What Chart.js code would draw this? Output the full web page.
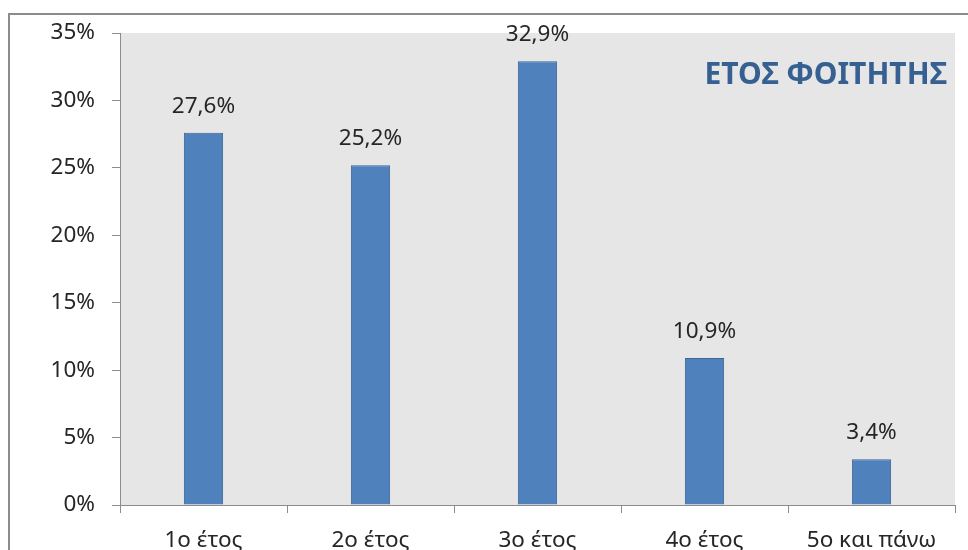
<!DOCTYPE html>
<html>
<head>
<meta charset="utf-8">
<script src="https://cdn.jsdelivr.net/npm/chart.js@4"></script>
<style>
    html, body { margin: 0; padding: 0; background: #ffffff; }
    #wrap { width: 968px; height: 550px; }
</style>
</head>
<body>
<div id="wrap"><canvas id="graphique"></canvas></div>
<script>
// données
const categories = ['1ο έτος', '2ο έτος', '3ο έτος', '4ο έτος', '5ο και πάνω'];
const pourcentages = [27.6, 25.2, 32.9, 10.9, 3.4];
const titre = 'ΕΤΟΣ ΦΟΙΤΗΤΗΣ';

const police = '"Noto Sans", "DejaVu Sans", sans-serif';

// fond gris de la zone de tracé + cadre extérieur
const fondPlugin = {
    id: 'fond',
    beforeDraw(chart) {
        const ctx = chart.ctx;
        const a = chart.chartArea;
        ctx.save();
        ctx.fillStyle = '#e6e6e6';
        ctx.fillRect(a.left, a.top, a.right - a.left, a.bottom - a.top);
        ctx.strokeStyle = '#8c8c8c';
        ctx.lineWidth = 2;
        ctx.strokeRect(9, 14, 1000, 600);
        ctx.restore();
    }
};

// étiquettes au-dessus des barres + titre
const etiquettesPlugin = {
    id: 'etiquettes',
    afterDatasetsDraw(chart) {
        const ctx = chart.ctx;
        const meta = chart.getDatasetMeta(0);
        ctx.save();
        ctx.font = '22.5px ' + police;
        ctx.fillStyle = '#262626';
        ctx.textAlign = 'center';
        ctx.textBaseline = 'alphabetic';
        meta.data.forEach((bar, i) => {
            const txt = pourcentages[i].toFixed(1).replace('.', ',') + '%';
            ctx.fillText(txt, bar.x, bar.y - 20);
        });
        ctx.font = 'bold 30px ' + police;
        ctx.fillStyle = '#376092';
        ctx.textAlign = 'right';
        ctx.fillText(titre, chart.chartArea.right - 8, 84);
        ctx.restore();
    }
};

const ctx = document.getElementById('graphique');

new Chart(ctx, {
    type: 'bar',
    data: {
        labels: categories,
        datasets: [{
            data: pourcentages,
            backgroundColor: '#4f81bd',
            borderColor: '#3a6599',
            borderWidth: 1,
            borderSkipped: 'bottom',
            categoryPercentage: 1,
            barPercentage: 0.235
        }]
    },
    options: {
        responsive: true,
        maintainAspectRatio: false,
        animation: false,
        layout: {
            padding: { left: 0, top: 33, right: 13, bottom: 0 }
        },
        plugins: {
            legend: { display: false },
            tooltip: { enabled: false }
        },
        scales: {
            x: {
                grid: {
                    offset: true,
                    drawOnChartArea: false,
                    drawTicks: true,
                    tickLength: 8,
                    color: '#8c8c8c'
                },
                border: { color: '#8c8c8c', width: 1 },
                ticks: {
                    color: '#262626',
                    font: { family: police, size: 22.5 },
                    padding: 14,
                    maxRotation: 0
                },
                afterFit(scale) { scale.height = 45; }
            },
            y: {
                min: 0,
                max: 35,
                grid: {
                    drawOnChartArea: false,
                    drawTicks: true,
                    tickLength: 8,
                    color: '#8c8c8c'
                },
                border: { color: '#8c8c8c', width: 1 },
                ticks: {
                    stepSize: 5,
                    color: '#262626',
                    font: { family: police, size: 22.5 },
                    padding: 17,
                    callback: v => v + '%'
                },
                afterFit(scale) { scale.width = 120; }
            }
        }
    },
    plugins: [fondPlugin, etiquettesPlugin]
});
</script>
</body>
</html>
